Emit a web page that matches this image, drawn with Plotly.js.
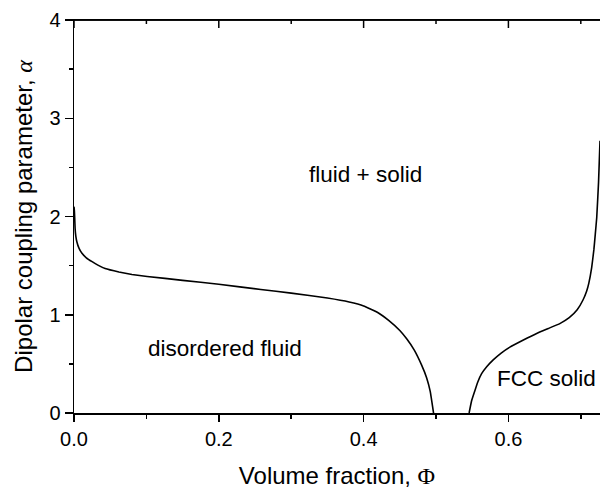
<!DOCTYPE html>
<html>
<head>
<meta charset="utf-8">
<script src="https://cdn.plot.ly/plotly-3.0.1.min.js"></script>
<style>html,body{margin:0;padding:0;background:#fff;}#chart{width:600px;height:493px;}</style>
</head>
<body>
<div id="chart"></div>
<script>
// Fluid boundary (left branch)
const fluidPhi   = [0.0, 0.0005, 0.001, 0.0015, 0.0025, 0.004, 0.007, 0.011, 0.017, 0.025, 0.033, 0.043, 0.062, 0.08, 0.101, 0.15, 0.2, 0.258, 0.3, 0.35, 0.38, 0.4, 0.42, 0.435, 0.45, 0.46, 0.47, 0.48, 0.487, 0.492, 0.4966];
const fluidAlpha = [2.10, 2.06, 1.98, 1.88, 1.80, 1.74, 1.675, 1.625, 1.58, 1.54, 1.505, 1.47, 1.435, 1.41, 1.39, 1.35, 1.31, 1.257, 1.22, 1.17, 1.13, 1.09, 1.02, 0.94, 0.84, 0.75, 0.64, 0.49, 0.36, 0.22, 0.0];
// Solid boundary (right branch)
const solidPhi   = [0.5457, 0.549, 0.554, 0.558, 0.563, 0.57, 0.579, 0.59, 0.602, 0.62, 0.639, 0.655, 0.671, 0.684, 0.695, 0.703, 0.708, 0.711, 0.715, 0.718, 0.72, 0.722, 0.7245, 0.7265];
const solidAlpha = [0.0, 0.12, 0.234, 0.32, 0.40, 0.47, 0.54, 0.61, 0.67, 0.74, 0.81, 0.86, 0.91, 0.97, 1.05, 1.15, 1.24, 1.32, 1.48, 1.66, 1.82, 1.99, 2.35, 2.77];

const xTicks = [0, 0.2, 0.4, 0.6];
const xTickLabels = ['0.0', '0.2', '0.4', '0.6'];
const xMinorTicks = [0.1, 0.3, 0.5, 0.7];
const yTicks = [0, 1, 2, 3, 4];
const yTickLabels = ['0', '1', '2', '3', '4'];

const regionLabels = ['fluid + solid', 'disordered fluid', 'FCC solid'];
const regionPhi = [0.4023, 0.2088, 0.653];
const regionAlpha = [2.43, 0.652, 0.348];

const font = 'Liberation Sans, Arial, sans-serif';
const serif = 'Liberation Serif, Times New Roman, serif';
const NB = '\u00A0';
const xRange = [0, 0.7265];
const yRange = [0, 4];

// Top frame of the plot box (line along the top of the axis range, with inward ticks)
const W = 600, H = 493, M = {l: 74, r: 0, t: 20, b: 80};
const unitsPerPx = (yRange[1] - yRange[0]) / (H - M.t - M.b);
const frameX = [xRange[0], xRange[1]];
const frameY = [yRange[1], yRange[1]];
xTicks.forEach(v => { frameX.push(null, v, v); frameY.push(null, yRange[1], yRange[1] - 8 * unitsPerPx); });
xMinorTicks.forEach(v => { frameX.push(null, v, v); frameY.push(null, yRange[1], yRange[1] - 4 * unitsPerPx); });

const traces = [
  {x: fluidPhi, y: fluidAlpha, mode: 'lines', line: {color: '#000', width: 1.6, shape: 'spline', smoothing: 0.3}, hoverinfo: 'skip'},
  {x: solidPhi, y: solidAlpha, mode: 'lines', line: {color: '#000', width: 1.6, shape: 'spline', smoothing: 0.3}, hoverinfo: 'skip'},
  {x: frameX, y: frameY, mode: 'lines', connectgaps: false, cliponaxis: false, line: {color: '#000', width: 1.5}, hoverinfo: 'skip'}
];

const layout = {
  width: W, height: H,
  margin: M,
  paper_bgcolor: '#fff', plot_bgcolor: '#fff',
  showlegend: false,
  font: {family: font, color: '#000', size: 20},
  xaxis: {
    range: xRange, showgrid: false, zeroline: false,
    showline: true, mirror: true, linecolor: '#000', linewidth: 1.5,
    ticks: 'outside', ticklen: 7, tickwidth: 1.5, tickcolor: '#000',
    tickvals: xTicks, ticktext: xTickLabels,
    minor: {dtick: 0.1, tick0: 0, ticks: 'outside', ticklen: 4, tickwidth: 1.5, tickcolor: '#000'},
    tickfont: {family: font, size: 20},
    title: {text: NB + 'Volume fraction, <span style="font-family:' + serif + '">Φ</span>', font: {family: font, size: 24}, standoff: 18}
  },
  yaxis: {
    range: yRange, showgrid: false, zeroline: false,
    showline: true, linecolor: '#000', linewidth: 1.5,
    ticks: 'outside', ticklen: 8, tickwidth: 1.5, tickcolor: '#000',
    tickvals: yTicks, ticktext: yTickLabels,
    minor: {dtick: 0.5, tick0: 0, ticks: 'outside', ticklen: 4, tickwidth: 1.5, tickcolor: '#000'},
    tickfont: {family: font, size: 20},
    title: {text: 'Dipolar coupling parameter, <span style="font-family:' + serif + '"><i>α</i></span>' + NB + NB + NB + NB, font: {family: font, size: 24}, standoff: 10}
  },
  shapes: [{type: 'line', xref: 'paper', yref: 'paper', x0: 0, x1: 1, y0: 1, y1: 1, line: {color: '#000', width: 1.5}, layer: 'above'}],
  annotations: regionLabels.map((t, i) => ({
    x: regionPhi[i], y: regionAlpha[i], xref: 'x', yref: 'y', text: t, showarrow: false,
    font: {family: font, size: 22.5, color: '#000'}
  }))
};

Plotly.newPlot('chart', traces, layout, {staticPlot: true, displayModeBar: false});
</script>
</body>
</html>
